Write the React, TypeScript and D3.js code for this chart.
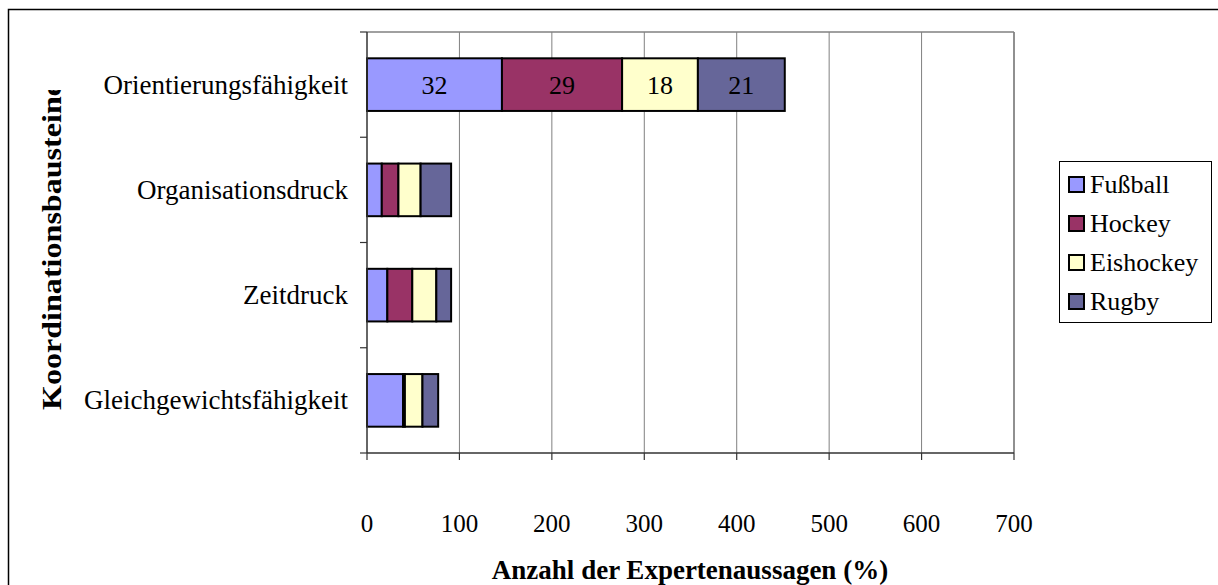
import React from "react";
import * as d3 from "d3";

const categories = ["Orientierungsfähigkeit", "Organisationsdruck", "Zeitdruck", "Gleichgewichtsfähigkeit"];
const seriesNames = ["Fußball", "Hockey", "Eishockey", "Rugby"];
const seriesColors = ["#9999FF", "#993366", "#FFFFCC", "#666699"];
const fussball = [146, 16, 22, 39];
const hockey = [130, 18, 27, 2];
const eishockey = [82, 24, 26, 19];
const rugby = [94, 33, 16, 17];
const xTicks = [0, 100, 200, 300, 400, 500, 600, 700];
const labeledCategory = "Orientierungsfähigkeit";

const W = 1218;
const H = 585;
const FONT = "'Liberation Serif', 'Times New Roman', serif";

export default function App() {
  const x = d3.scaleLinear().domain([0, 700]).range([367, 1014]);
  const y = d3.scaleBand().domain(categories).range([32, 453]).paddingInner(0.5).paddingOuter(0.25);
  const bandStep = (453 - 32) / categories.length;

  const rows = categories.map((c, i) => {
    const vals = [fussball[i], hockey[i], eishockey[i], rugby[i]];
    const total = d3.sum(vals);
    let acc = 0;
    const segs = vals.map((v, k) => {
      const s = { x0: acc, x1: acc + v, v, k, pct: Math.round((v / total) * 100) };
      acc += v;
      return s;
    });
    return { c, segs };
  });

  const boundaries = d3.range(categories.length + 1).map((i) => 32 + i * bandStep);

  return (
    <svg width={W} height={H} style={{ position: "absolute", left: 0, top: 0 }} fontFamily={FONT}>
      <defs>
        <clipPath id="ytitleclip">
          <rect x={0} y={90} width={120} height={500} />
        </clipPath>
      </defs>
      <rect x={0} y={0} width={W} height={H} fill="#fff" />
      <rect x={8.5} y={9.5} width={1230} height={600} fill="none" stroke="#000" strokeWidth={1.5} />

      {/* gridlines */}
      {xTicks.slice(1).map((t) => (
        <line key={t} x1={x(t)} x2={x(t)} y1={32} y2={453} stroke="#808080" strokeWidth={1} />
      ))}
      <line x1={x(0)} x2={x(700)} y1={32} y2={32} stroke="#808080" strokeWidth={1.5} />
      <line x1={x(700)} x2={x(700)} y1={32} y2={453} stroke="#808080" strokeWidth={1.5} />

      {/* bars */}
      {rows.map((r) => (
        <g key={r.c}>
          {r.segs.map((s) =>
            s.v > 0 ? (
              <rect
                key={s.k}
                x={x(s.x0)}
                y={y(r.c)!}
                width={x(s.x1) - x(s.x0)}
                height={y.bandwidth()}
                fill={seriesColors[s.k]}
                stroke="#000"
                strokeWidth={2}
              />
            ) : null
          )}
          {r.c === labeledCategory &&
            r.segs.map((s) => (
              <text
                key={"l" + s.k}
                x={(x(s.x0) + x(s.x1)) / 2}
                y={y(r.c)! + y.bandwidth() / 2 + 9}
                textAnchor="middle"
                fontSize={26}
                fill="#000"
              >
                {s.pct}
              </text>
            ))}
        </g>
      ))}

      {/* axes */}
      <line x1={x(0)} x2={x(0)} y1={32} y2={453} stroke="#333" strokeWidth={1.5} />
      <line x1={x(0)} x2={x(700)} y1={453} y2={453} stroke="#333" strokeWidth={1.5} />
      {boundaries.map((b, i) => (
        <line key={i} x1={360} x2={x(0)} y1={b} y2={b} stroke="#333" strokeWidth={1.2} />
      ))}
      {xTicks.map((t) => (
        <g key={t}>
          <line x1={x(t)} x2={x(t)} y1={453} y2={460} stroke="#333" strokeWidth={1.2} />
          <text x={x(t)} y={532} textAnchor="middle" fontSize={25} fill="#000">
            {t}
          </text>
        </g>
      ))}
      {categories.map((c) => (
        <text key={c} x={348} y={y(c)! + y.bandwidth() / 2 + 9} textAnchor="end" fontSize={27} fill="#000">
          {c}
        </text>
      ))}

      {/* titles */}
      <text x={690} y={579} textAnchor="middle" fontSize={27} fontWeight="bold" fill="#000">
        Anzahl der Expertenaussagen (%)
      </text>
      <g clipPath="url(#ytitleclip)">
        <text
          transform="translate(61,410) rotate(-90)"
          textAnchor="start"
          fontSize={28}
          fontWeight="bold"
          textLength={328}
          lengthAdjust="spacingAndGlyphs"
          fill="#000"
        >
          Koordinationsbausteine
        </text>
      </g>

      {/* legend */}
      <rect x={1059.5} y={161.5} width={152} height={161} fill="#fff" stroke="#000" strokeWidth={1} />
      {seriesNames.map((n, i) => (
        <g key={n} transform={`translate(0, ${184 + i * 39})`}>
          <rect x={1069} y={-7} width={15} height={15} fill={seriesColors[i]} stroke="#000" strokeWidth={2} />
          <text x={1090} y={9} fontSize={26} fill="#000">
            {n}
          </text>
        </g>
      ))}
    </svg>
  );
}
